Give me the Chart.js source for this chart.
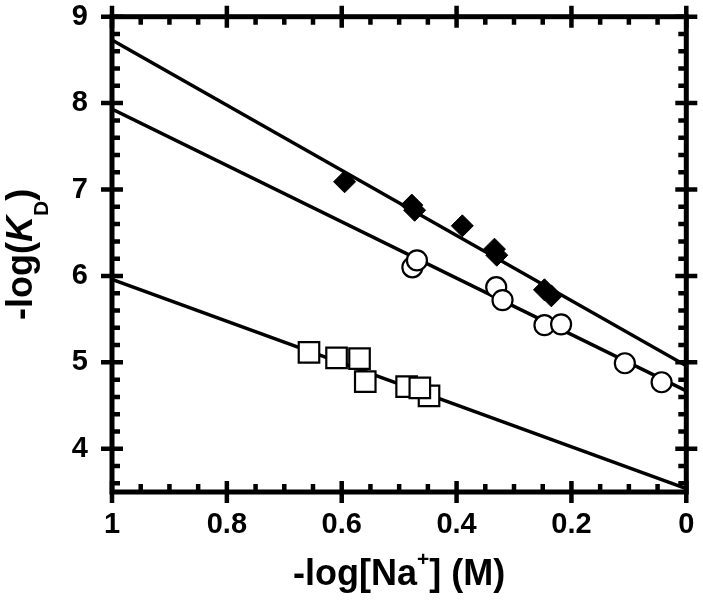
<!DOCTYPE html>
<html><head><meta charset="utf-8">
<script src="https://cdn.jsdelivr.net/npm/chart.js@4.4.1/dist/chart.umd.min.js"></script>
<style>html,body{margin:0;padding:0;background:#fff;}</style>
</head><body>
<canvas id="c" width="703" height="603"></canvas>
<script>
// ---- data ----
const xTickValues = [1, 0.8, 0.6, 0.4, 0.2, 0];
const xTickLabels = ['1', '0.8', '0.6', '0.4', '0.2', '0'];
const yTickValues = [4, 5, 6, 7, 8, 9];
const yTickLabels = ['4', '5', '6', '7', '8', '9'];

const diamondX = [0.595, 0.478, 0.473, 0.390, 0.334, 0.330, 0.247, 0.235];
const diamondY = [7.09, 6.82, 6.76, 6.58, 6.31, 6.24, 5.84, 5.77];

const circleX = [0.477, 0.469, 0.331, 0.320, 0.247, 0.218, 0.107, 0.043];
const circleY = [6.10, 6.18, 5.87, 5.72, 5.43, 5.44, 4.99, 4.77];

const squareX = [0.657, 0.609, 0.569, 0.559, 0.487, 0.448, 0.464];
const squareY = [5.115, 5.053, 5.043, 4.777, 4.72, 4.613, 4.705];

const fitX = [1, 0];
const fitDiamondY = [8.73, 4.96];
const fitCircleY = [7.93, 4.67];
const fitSquareY = [5.96, 3.54];

const pts = (xs, ys) => xs.map((v, i) => ({x: v, y: ys[i]}));

const FONT = '"Liberation Sans", Arial, Helvetica, sans-serif';

const framePlugin = {
  id: 'frame',
  afterDraw(chart) {
    const {ctx, chartArea: a, scales: {x, y}} = chart;
    ctx.save();
    ctx.strokeStyle = '#000';
    ctx.lineCap = 'butt';
    const MAJ = 11, MIN = 8;
    ctx.lineWidth = 5;
    ctx.strokeRect(a.left, a.top, a.right - a.left, a.bottom - a.top);
    ctx.lineWidth = 4.5;
    ctx.beginPath();
    xTickValues.forEach(v => {
      const p = x.getPixelForValue(v);
      ctx.moveTo(p, a.bottom - MAJ); ctx.lineTo(p, a.bottom + MAJ);
      ctx.moveTo(p, a.top - MAJ); ctx.lineTo(p, a.top + MAJ);
    });
    yTickValues.forEach(v => {
      const p = y.getPixelForValue(v);
      ctx.moveTo(a.left - MAJ, p); ctx.lineTo(a.left + MAJ, p);
      ctx.moveTo(a.right - MAJ, p); ctx.lineTo(a.right + MAJ, p);
    });
    for (let i = 1; i < 20; i++) {
      if (i % 4 === 0) continue;
      const p = x.getPixelForValue(i * 0.05);
      ctx.moveTo(p, a.bottom); ctx.lineTo(p, a.bottom - MIN);
      ctx.moveTo(p, a.top); ctx.lineTo(p, a.top + MIN);
    }
    for (let k = 18; k <= 44; k++) {
      if (k % 5 === 0) continue;
      const p = y.getPixelForValue(k * 0.2);
      ctx.moveTo(a.left, p); ctx.lineTo(a.left + MIN, p);
      ctx.moveTo(a.right, p); ctx.lineTo(a.right - MIN, p);
    }
    ctx.stroke();

    // axis titles
    ctx.fillStyle = '#000';
    ctx.textBaseline = 'alphabetic';
    ctx.textAlign = 'left';
    const drawParts = (parts, cx, cy) => {
      let total = 0;
      parts.forEach(p => { ctx.font = p.f; total += ctx.measureText(p.t).width; });
      let xx = cx - total / 2;
      parts.forEach(p => { ctx.font = p.f; ctx.fillText(p.t, xx, cy + p.dy); xx += ctx.measureText(p.t).width; });
    };
    const big = 'bold 36px ' + FONT;
    const small = 'bold 21px ' + FONT;
    drawParts([
      {t: '-log[Na', f: big, dy: 0},
      {t: '+', f: small, dy: -19},
      {t: '] (M)', f: big, dy: 0}
    ], (a.left + a.right) / 2, 585);

    ctx.save();
    ctx.translate(32, (a.top + a.bottom) / 2);
    ctx.rotate(-Math.PI / 2);
    drawParts([
      {t: '-log(', f: big, dy: 0},
      {t: 'K', f: 'italic bold 36px ' + FONT, dy: 0},
      {t: 'D', f: small, dy: 16},
      {t: ')', f: big, dy: 0}
    ], 0, 0);
    ctx.restore();
    ctx.restore();
  }
};

new Chart(document.getElementById('c'), {
  type: 'scatter',
  data: {
    datasets: [
      {data: pts(fitX, fitDiamondY), showLine: true, borderColor: '#000', borderWidth: 3.5, pointRadius: 0, order: 2},
      {data: pts(fitX, fitCircleY), showLine: true, borderColor: '#000', borderWidth: 3.5, pointRadius: 0, order: 2},
      {data: pts(fitX, fitSquareY), showLine: true, borderColor: '#000', borderWidth: 3.5, pointRadius: 0, order: 2},
      {data: pts(squareX, squareY), pointStyle: 'rect', pointRadius: 14.5, pointBackgroundColor: '#fff', pointBorderColor: '#000', pointBorderWidth: 2.2, order: 1},
      {data: pts(circleX, circleY), pointStyle: 'circle', pointRadius: 10, pointBackgroundColor: '#fff', pointBorderColor: '#000', pointBorderWidth: 2.2, order: 1},
      {data: pts(diamondX, diamondY), pointStyle: 'rectRot', pointRadius: 11, pointBackgroundColor: '#000', pointBorderColor: '#000', pointBorderWidth: 1, order: 1}
    ]
  },
  options: {
    responsive: false,
    animation: false,
    devicePixelRatio: 1,
    layout: {padding: {top: 13, right: 16, left: 0, bottom: 0}},
    plugins: {legend: {display: false}, tooltip: {enabled: false}},
    scales: {
      x: {
        type: 'linear', position: 'bottom', min: 0, max: 1, reverse: true,
        grid: {display: false}, border: {display: false},
        afterBuildTicks: s => { s.ticks = xTickValues.map(v => ({value: v})); },
        afterFit: s => { s.height = 111; s.paddingLeft = 0; s.paddingRight = 0; },
        ticks: {color: '#000', padding: 8, maxRotation: 0, autoSkip: false,
          callback: (v, i) => xTickLabels[i],
          font: {family: FONT, size: 29, weight: 'bold'}}
      },
      y: {
        type: 'linear', position: 'left', min: 3.5, max: 9,
        grid: {display: false}, border: {display: false},
        afterBuildTicks: s => { s.ticks = yTickValues.map(v => ({value: v})); },
        afterFit: s => { s.width = 112; s.paddingTop = 0; s.paddingBottom = 0; },
        ticks: {color: '#000', padding: 16, autoSkip: false,
          callback: (v, i) => yTickLabels[i],
          font: {family: FONT, size: 29, weight: 'bold'}}
      }
    }
  },
  plugins: [framePlugin]
});
</script>
</body></html>
